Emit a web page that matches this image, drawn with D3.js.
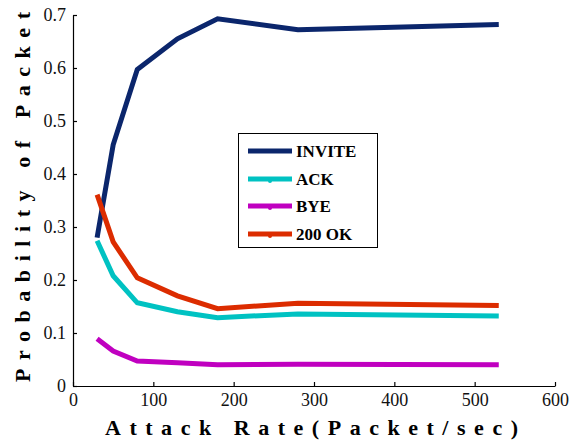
<!DOCTYPE html>
<html>
<head>
<meta charset="utf-8">
<script src="https://cdn.jsdelivr.net/npm/d3@7"></script>
<style>
  body { margin: 0; background: #fff; }
  svg { display: block; }
  svg text { font-family: "Liberation Serif", Tinos, "Times New Roman", Times, "DejaVu Serif", serif; }
</style>
</head>
<body>
<div class="container"></div>
<script>
// attack rates (packet/sec)
const rates = [30, 50, 80, 130, 180, 280, 530];

// probability per packet type
const invite = [0.280, 0.455, 0.597, 0.655, 0.693, 0.672, 0.682];
const ack    = [0.274, 0.208, 0.157, 0.140, 0.129, 0.136, 0.132];
const bye    = [0.089, 0.066, 0.047, 0.044, 0.040, 0.041, 0.040];
const ok200  = [0.361, 0.272, 0.204, 0.170, 0.146, 0.156, 0.152];

const seriesNames = ["INVITE", "ACK", "BYE", "200 OK"];
const seriesColors = ["#0b266c", "#00c2c2", "#c000c0", "#dc2c00"];
const seriesValues = [invite, ack, bye, ok200];

const xTicks = [0, 100, 200, 300, 400, 500, 600];
const yTicks = [0, 0.1, 0.2, 0.3, 0.4, 0.5, 0.6, 0.7];

const width = 571;
const height = 446;
const plotLeft = 73, plotRight = 555, plotTop = 15, plotBottom = 386;

const svg = d3.select('.container')
  .append('svg')
  .attr('width', width)
  .attr('height', height);

const xScale = d3.scaleLinear().domain([0, 600]).range([plotLeft, plotRight]);
const yScale = d3.scaleLinear().domain([0, 0.7]).range([plotBottom, plotTop]);

const xAxis = d3.axisBottom(xScale)
  .tickValues(xTicks)
  .tickSizeInner(-4)
  .tickSizeOuter(0)
  .tickPadding(7)
  .tickFormat(d3.format('d'));

const yAxis = d3.axisLeft(yScale)
  .tickValues(yTicks)
  .tickSizeInner(-4)
  .tickSizeOuter(0)
  .tickPadding(7)
  .tickFormat(d => d === 0 ? '0' : d.toFixed(1));

const gx = svg.append('g')
  .attr('transform', `translate(0, ${plotBottom})`)
  .call(xAxis);

const gy = svg.append('g')
  .attr('transform', `translate(${plotLeft}, 0)`)
  .call(yAxis);

[gx, gy].forEach(g => {
  g.attr('font-family', null);
  g.selectAll('text')
    .attr('font-size', 18)
    .attr('fill', '#111');
  g.selectAll('line, path').attr('stroke', '#000').attr('stroke-width', 1.2);
});

// lines
const line = d3.line()
  .x((d, i) => xScale(rates[i]))
  .y(d => yScale(d));

svg.selectAll('.series')
  .data(seriesValues)
  .enter()
  .append('path')
  .attr('class', 'series')
  .attr('d', d => line(d))
  .attr('fill', 'none')
  .attr('stroke', (d, i) => seriesColors[i])
  .attr('stroke-width', 5)
  .attr('stroke-linejoin', 'miter');

// axis titles
svg.append('text')
  .attr('x', (105 + 518) / 2)
  .attr('y', 435)
  .attr('text-anchor', 'middle')
  .attr('font-weight', 'bold')
  .attr('font-size', 22)
  .attr('textLength', 413)
  .attr('lengthAdjust', 'spacing')
  .text('Attack Rate(Packet/sec)');

svg.append('text')
  .attr('transform', 'translate(30, 197) rotate(-90)')
  .attr('text-anchor', 'middle')
  .attr('font-weight', 'bold')
  .attr('font-size', 22)
  .attr('textLength', 370)
  .attr('lengthAdjust', 'spacing')
  .text('Probability of Packet');

// legend
const legend = svg.append('g');
legend.append('rect')
  .attr('x', 238.5)
  .attr('y', 133.5)
  .attr('width', 139)
  .attr('height', 114)
  .attr('fill', '#fff')
  .attr('stroke', '#000')
  .attr('stroke-width', 1);

const rowY = [151, 179, 206, 234];
seriesNames.forEach((name, i) => {
  const g = legend.append('g');
  g.append('line')
    .attr('x1', 248).attr('x2', 292)
    .attr('y1', rowY[i]).attr('y2', rowY[i])
    .attr('stroke', seriesColors[i])
    .attr('stroke-width', 5);
  if (i > 0) {
    g.append('circle')
      .attr('cx', 270).attr('cy', rowY[i] + 2)
      .attr('r', 2)
      .attr('fill', seriesColors[i]);
  }
  g.append('text')
    .attr('x', 296)
    .attr('y', rowY[i] + 6)
    .attr('font-weight', 'bold')
    .attr('font-size', 17)
    .text(name);
});
</script>
</body>
</html>
